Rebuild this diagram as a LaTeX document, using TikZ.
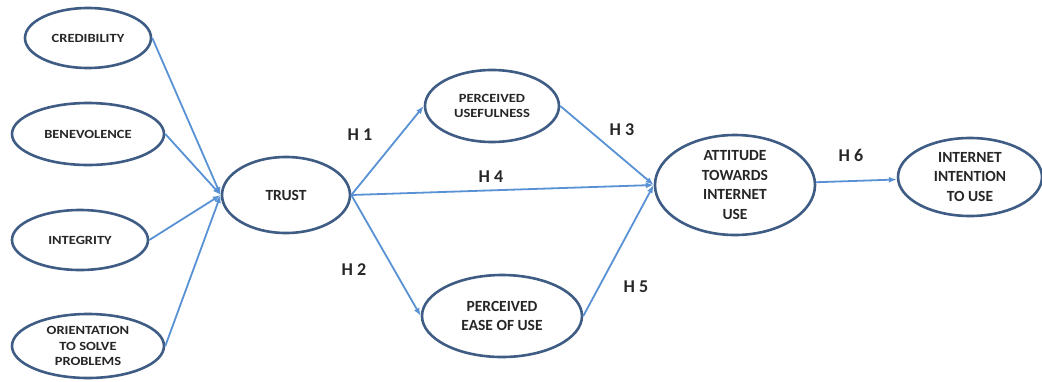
\documentclass[tikz,border=0pt]{standalone}
\usepackage{fontspec}
\setmainfont{Carlito}
\newfontfamily\widecarlito{Carlito}[FakeStretch=1.16]
\usetikzlibrary{positioning}
\usetikzlibrary{arrows.meta}
\usetikzlibrary{shapes.geometric}

\definecolor{rimblue}{RGB}{62,92,132}
\definecolor{linkblue}{RGB}{88,146,212}

\tikzset{
  construct/.style={draw=rimblue, line width=2.6pt, ellipse, inner sep=0pt,
    align=center, font=\widecarlito\bfseries\fontsize{12.5}{15.5}\selectfont, text=black!85},
  bigtext/.style={font=\bfseries\fontsize{15.5}{19.5}\selectfont},
  arc/.style={draw=linkblue, line width=1.8pt,
    -{Latex[length=8pt,width=6pt]}},
  hyp/.style={font=\bfseries\fontsize{18}{20}\selectfont, text=black!85}
}

\begin{document}
\begin{tikzpicture}[x=1pt, y=-1pt, on grid]
\useasboundingbox (0,0) rectangle (1042,381);
\node[construct, minimum width=126pt, minimum height=60pt](cred) at (88,38){CREDIBILITY};
\node[construct, minimum width=152pt, minimum height=62pt, below = 96pt of cred](bene){BENEVOLENCE};
\node[construct, minimum width=136pt, minimum height=60pt, below left = 106pt and 8pt of bene](integ){INTEGRITY};
\node[construct, minimum width=152pt, minimum height=64pt, below right = 106pt and 8pt of integ](orient){ORIENTATION\\TO SOLVE\\PROBLEMS};
\node[construct, bigtext, minimum width=128pt, minimum height=76pt, above right = 45pt and 206pt of integ](trust){TRUST};
\node[construct, minimum width=134pt, minimum height=72pt, above right = 89pt and 206pt of trust](pu){PERCEIVED\\USEFULNESS};
\node[construct, bigtext, minimum width=160pt, minimum height=82pt, below right = 121pt and 216pt of trust](peou){PERCEIVED\\EASE OF USE};
\node[construct, bigtext, minimum width=160pt, minimum height=100pt, above right = 10pt and 449pt of trust](att){ATTITUDE\\TOWARDS\\INTERNET\\USE};
\node[construct, bigtext, minimum width=144pt, minimum height=78pt, above right = 8pt and 235pt of att](intent){INTERNET\\INTENTION\\TO USE};
\draw[arc] (cred.east) -- (trust.west);
\draw[arc] (bene.east) -- (trust.west);
\draw[arc] (integ.east) -- (trust.west);
\draw[arc] (orient.east) -- (trust.west);
\draw[arc] (trust.east) -- (pu.west);
\draw[arc] (trust.east) -- (peou.west);
\draw[arc] (trust.east) -- (att.west);
\draw[arc] (pu.east) -- (att.west);
\draw[arc] (peou.east) -- (att.west);
\draw[arc] (att) -- (intent);
\node[hyp](h1) at (360,135){H 1};
\node[hyp](h2) at (354,270){H 2};
\node[hyp](h3) at (622,130){H 3};
\node[hyp](h4) at (491,177){H 4};
\node[hyp](h5) at (636,287){H 5};
\node[hyp](h6) at (851,155){H 6};
\end{tikzpicture}
\end{document}
